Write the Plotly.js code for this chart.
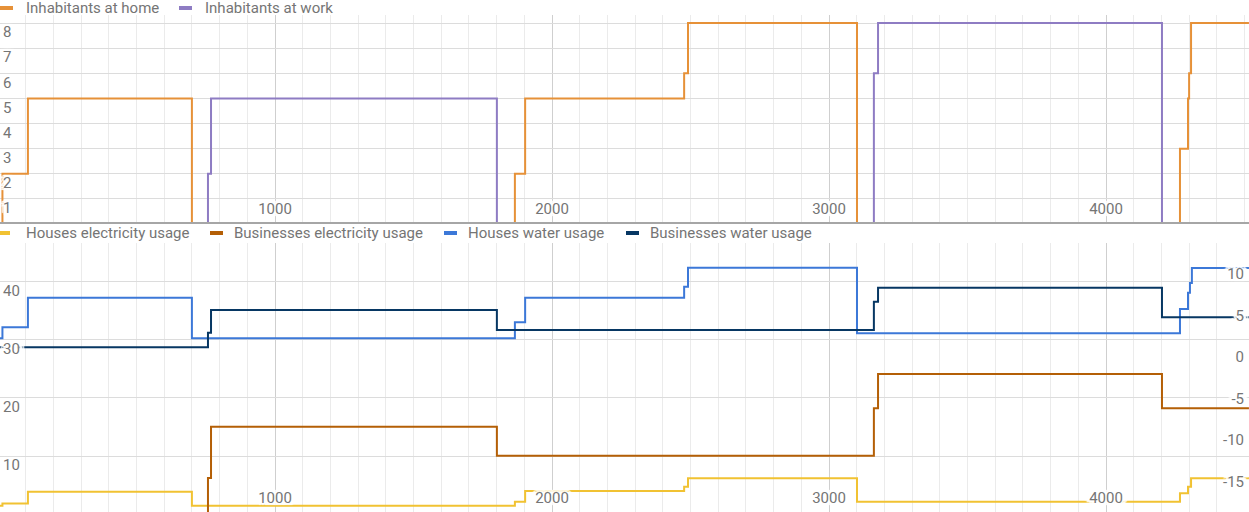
<!DOCTYPE html>
<html>
<head>
<meta charset="utf-8">
<script src="https://cdn.plot.ly/plotly-3.0.1.min.js"></script>
<style>html,body{margin:0;padding:0;background:#fff;}#chart{width:1249px;height:512px;}</style>
</head>
<body>
<div id="chart"></div>
<script>
// ---- data ----
const topNames = ["Inhabitants at home", "Inhabitants at work"];
const bottomNames = ["Houses electricity usage", "Businesses electricity usage", "Houses water usage", "Businesses water usage"];

const homeX = [7, 16, 108, 700, 1866, 1903, 2477, 2491, 3101, 4267, 4296, 4300, 4307, 4516];
const homeY = [0, 2, 5, 0, 2, 5, 6, 8, 0, 3, 5, 6, 8, 8];

const workX = [7, 758, 769, 1801, 3162, 3177, 4202, 4516];
const workY = [0, 2, 5, 0, 6, 8, 0, 0];

const housesElecX = [7, 16, 108, 700, 1866, 1903, 2477, 2491, 3101, 4267, 4296, 4307, 4516];
const housesElecY = [1.43, 1.81, 3.84, 1.43, 2.12, 3.97, 4.71, 6.16, 2.12, 3.57, 4.71, 6.16, 6.16];

const bizElecX = [7, 758, 769, 1801, 3162, 3177, 4202, 4516];
const bizElecY = [0, 6.2, 15.05, 10.05, 18.22, 24.14, 18.22, 18.22];

const housesWaterX = [7, 16, 108, 700, 1866, 1903, 2477, 2491, 3101, 4267, 4296, 4303, 4310, 4516];
const housesWaterY = [2.25, 3.57, 7.13, 2.25, 4.17, 7.13, 8.45, 10.73, 2.85, 5.77, 7.73, 8.89, 10.7, 10.7];

const bizWaterX = [7, 758, 769, 1801, 3162, 3177, 4202, 4516];
const bizWaterY = [1.17, 2.92, 5.65, 3.25, 6.65, 8.33, 4.77, 4.77];

const xTicks = [1000, 2000, 3000, 4000];
const topYTicks = [1, 2, 3, 4, 5, 6, 7, 8];
const leftYTicks = [10, 20, 30, 40];
const rightYTicks = [-15, -10, -5, 0, 5, 10];
const rightYLabels = ["-15", "-10", "-5", "0", "5", "10"];

const topColors = ["#e69138", "#8e7cc3"];
const bottomColors = ["#f1c232", "#b45f06", "#3c78d8", "#073763"];

// ---- styling ----
const W = 1249, H = 512;
const FONT = "Roboto, 'Noto Sans', sans-serif";
const FS = 15;
const TXT = "#757575";
const halo = "-2px 0 1px #fff, 2px 0 1px #fff, 0 -2px 1px #fff, 0 2px 1px #fff, -3px -2px 1px #fff, 3px 2px 1px #fff, -3px 2px 1px #fff, 3px -2px 1px #fff, -5px 0 1px #fff, 5px 0 1px #fff";
const tickFont = {family: FONT, size: FS, color: TXT, shadow: halo};

function line(x, y, name, color, xa, ya) {
  return {x: x, y: y, name: name, type: "scatter", mode: "lines",
    line: {shape: "hv", color: color, width: 2}, xaxis: xa, yaxis: ya,
    showlegend: false, hoverinfo: "x+y+name"};
}

const traces = [
  line(homeX, homeY, topNames[0], topColors[0], "x", "y"),
  line(workX, workY, topNames[1], topColors[1], "x", "y"),
  line(housesElecX, housesElecY, bottomNames[0], bottomColors[0], "x2", "y3"),
  line(bizElecX, bizElecY, bottomNames[1], bottomColors[1], "x2", "y3"),
  line(housesWaterX, housesWaterY, bottomNames[2], bottomColors[2], "x2", "y4"),
  line(bizWaterX, bizWaterY, bottomNames[3], bottomColors[3], "x2", "y4")
];

const xRange = [7.22, 4516.2];
function xAxis(anchor, showline, standoff) {
  return {domain: [0, 1], anchor: anchor, range: xRange, tickvals: xTicks,
    ticklabelposition: "inside", ticks: "", tickfont: tickFont, ticklabelstandoff: standoff,
    showgrid: true, gridcolor: "#cfcfcf", gridwidth: 1, zeroline: false,
    minor: {dtick: 100, tick0: 0, showgrid: true, gridcolor: "#ebebeb", gridwidth: 1},
    showline: showline, linecolor: "#a6a6a6", linewidth: 2, fixedrange: true};
}

const topDomain = [1 - 222 / H, 1 - 15 / H];
const botDomain = [0, 1 - 243 / H];

const layout = {
  width: W, height: H,
  margin: {l: 0, r: 0, t: 0, b: 0, pad: 0},
  paper_bgcolor: "#fff", plot_bgcolor: "#fff",
  font: {family: FONT, size: FS, color: TXT},
  showlegend: false,
  xaxis: xAxis("y", true, 5),
  xaxis2: xAxis("y3", false, 3),
  yaxis: {domain: topDomain, range: [0.085, 8.318], tickvals: topYTicks,
    ticklabelposition: "inside", ticks: "", ticklabelshift: 9, tickfont: tickFont,
    showgrid: true, gridcolor: "#dcdcdc", zeroline: false, showline: false},
  yaxis3: {domain: botDomain, anchor: "x2", range: [0.345, 46.72], tickvals: leftYTicks,
    ticklabelposition: "inside", ticks: "", ticklabelshift: 9, tickfont: tickFont,
    showgrid: true, gridcolor: "#dcdcdc", zeroline: false, showline: false},
  yaxis4: {domain: botDomain, anchor: "x2", overlaying: "y3", side: "right",
    range: [-18.63, 13.70], tickvals: rightYTicks, ticktext: rightYLabels,
    ticklabelposition: "inside", ticks: "", tickfont: tickFont, ticklabelstandoff: 2,
    showgrid: false, zeroline: false, showline: false},
  shapes: [], annotations: []
};

// legends drawn as paper-positioned markers + text
function addLegend(names, colors, markerStarts, textStarts, yPx) {
  names.forEach((n, i) => {
    layout.shapes.push({type: "line", xref: "paper", yref: "paper",
      x0: markerStarts[i] / W, x1: (markerStarts[i] + 13) / W,
      y0: 1 - yPx / H, y1: 1 - yPx / H,
      line: {color: colors[i], width: 4}});
    layout.annotations.push({xref: "paper", yref: "paper",
      x: textStarts[i] / W, y: 1 - yPx / H, xanchor: "left", yanchor: "middle",
      text: n, showarrow: false, borderpad: 0, borderwidth: 0,
      font: {family: FONT, size: FS, color: TXT}});
  });
}
addLegend(topNames, topColors, [0, 179], [26, 205], 8);
addLegend(bottomNames, bottomColors, [-3, 210, 444, 626], [26, 234, 468, 650], 233);

Plotly.newPlot("chart", traces, layout, {displayModeBar: false, staticPlot: true});
</script>
</body>
</html>
